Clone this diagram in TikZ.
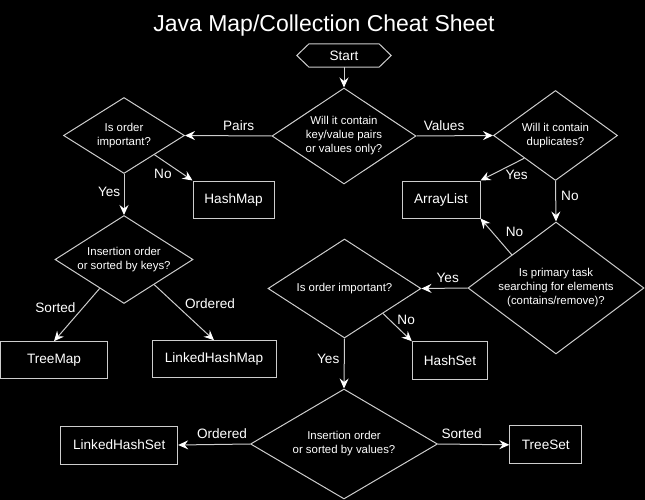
\documentclass[tikz,border=0pt]{standalone}
\usepackage{fontspec}
\setmainfont{Liberation Sans}
\usetikzlibrary{shapes.geometric,arrows.meta,calc}
\definecolor{linec}{RGB}{205,205,205}
\begin{document}
\begin{tikzpicture}[x=1pt,y=-1pt,
  every node/.style={text=white},
  dia/.style={shape=diamond, draw=linec, line width=1pt, inner sep=0pt, align=center, font=\fontsize{11.4}{14}\selectfont},
  res/.style={draw=linec, line width=1pt, inner sep=0pt, font=\fontsize{13.6}{16}\selectfont},
  conn/.style={draw=linec, line width=1pt, -{Stealth[length=10pt,width=9pt,inset=3.5pt,color=white]}},
  lbl/.style={font=\fontsize{13.6}{16}\selectfont, text height=9.8pt, text depth=0pt, inner sep=1pt}
]
\fill[black] (0,0) rectangle (645,500);
\path[use as bounding box] (0,0) rectangle (645,500);

\node[anchor=base, font=\fontsize{23}{28}\selectfont] (title) at (324,32) {Java Map/Collection Cheat Sheet};

\node[font=\fontsize{13.6}{16}\selectfont, minimum width=94pt, minimum height=22.7pt, inner sep=0pt] (start) at (344,55.5) {Start};
\draw[linec, line width=1pt] (start.west) -- ([xshift=12pt]start.north west) -- ([xshift=-12pt]start.north east) -- (start.east) -- ([xshift=-12pt]start.south east) -- ([xshift=12pt]start.south west) -- cycle;

\node[dia, minimum width=144pt, minimum height=96pt, aspect=1.5] (q1) at (344,136) {Will it contain\\key/value pairs\\or values only?};
\node[dia, minimum width=121pt, minimum height=76pt, aspect=1.59] (q2) at (124,135.5) {Is order\\important?};
\node[dia, minimum width=124pt, minimum height=90pt, aspect=1.38] (q3) at (555.5,135.5) {Will it contain\\duplicates?};
\node[dia, minimum width=138pt, minimum height=88pt, aspect=1.57] (q4) at (124,259.5) {Insertion order\\or sorted by keys?};
\node[dia, minimum width=176pt, minimum height=132pt, aspect=1.33] (q5) at (556,288) {Is primary task\\searching for elements\\(contains/remove)?};
\node[dia, minimum width=153pt, minimum height=99pt, aspect=1.55] (q6) at (344.5,288.5) {Is order important?};
\node[dia, minimum width=187pt, minimum height=110pt, aspect=1.7] (q7) at (344,444) {Insertion order\\or sorted by values?};

\node[res, minimum width=81pt, minimum height=37pt] (hashmap) at (233.5,199.5) {HashMap};
\node[res, minimum width=78pt, minimum height=37pt] (arraylist) at (441,199.5) {ArrayList};
\node[res, minimum width=107pt, minimum height=36.6pt] (treemap) at (54,360) {TreeMap};
\node[res, minimum width=124pt, minimum height=36.6pt] (lhm) at (214,359) {LinkedHashMap};
\node[res, minimum width=75.4pt, minimum height=37.6pt] (hashset) at (450,360.5) {HashSet};
\node[res, minimum width=117pt, minimum height=38pt] (lhs) at (119.2,445) {LinkedHashSet};
\node[res, minimum width=72pt, minimum height=38.3pt] (treeset) at (545.8,444.8) {TreeSet};

\draw[conn] (start.south) -- (q1.north);
\draw[conn] (q1.west) -- node[lbl, pos=0.38, above=4pt] {Pairs} (q2.east);
\draw[conn] (q1.east) -- node[lbl, pos=0.36, above=4pt] {Values} (q3.west);
\draw[conn] ($(q2.south)!0.5!(q2.east)$) -- node[lbl, pos=0.3, anchor=north, xshift=-3pt, yshift=-4.5pt] {No} (hashmap.north west);
\draw[conn] (q2.south) -- node[lbl, pos=0.42, left=2.3pt] {Yes} (q4.north);
\draw[conn] ($(q3.south)!0.5!(q3.west)$) -- node[lbl, pos=0.15, anchor=north, xshift=-1pt, yshift=-6.5pt] {Yes} (arraylist.north east);
\draw[conn] (q3.south) -- node[lbl, pos=0.37, right=4pt] {No} (q5.north);
\draw[conn] ($(q5.north)!0.5!(q5.west)$) -- node[lbl, pos=0.62, anchor=west, xshift=12pt, yshift=1pt] {No} (arraylist.south east);
\draw[conn] (q5.west) -- node[lbl, pos=0.43, above=4pt] {Yes} (q6.east);
\draw[conn] ($(q6.south)!0.5!(q6.east)$) -- node[lbl, pos=0.45, anchor=south west] {No} (hashset.north west);
\draw[conn] (q6.south) -- node[lbl, pos=0.41, left=3.5pt] {Yes} (q7.north);
\draw[conn] ($(q4.west)!0.65!(q4.south)$) -- node[lbl, pos=0.37, anchor=east, xshift=-5.8pt] {Sorted} (treemap.north);
\draw[conn] ($(q4.east)!0.565!(q4.south)$) -- node[lbl, pos=0.35, anchor=west, xshift=8.4pt] {Ordered} (lhm.north);
\draw[conn] (q7.west) -- node[lbl, pos=0.39, above=4pt] {Ordered} (lhs.east);
\draw[conn] (q7.east) -- node[lbl, pos=0.33, above=4pt] {Sorted} (treeset.west);
\end{tikzpicture}
\end{document}
